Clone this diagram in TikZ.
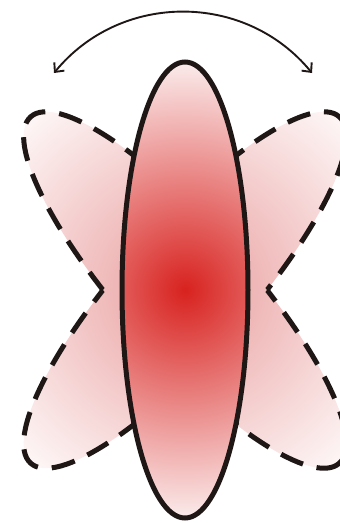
\documentclass[tikz,border=0pt]{standalone}
\usepackage{tikz}
\usetikzlibrary{arrows.meta}
\definecolor{corered}{HTML}{D8221F}
\definecolor{coreedge}{HTML}{FBEDED}
\definecolor{lobered}{HTML}{E99C9C}
\definecolor{lobeedge}{HTML}{FEF8F8}
\definecolor{ink}{HTML}{1E1715}

\begin{document}
\begin{tikzpicture}[x=1pt, y=-1pt,
    rim/.style={draw=ink, line width=5pt},
    lobe/.style={rim, dash pattern=on 24pt off 14pt},
    swing/.style={draw=ink, line width=1.9pt,
        {Straight Barb[length=7pt,width=13pt]}-{Straight Barb[length=7pt,width=13pt]}}]
    \useasboundingbox (0,0) rectangle (340,523);
    \clip (0,0) rectangle (340,523);
    \coordinate (c) at (185,290);

    % lobes behind
    \begin{scope}
        \clip (c) ellipse[x radius=232, y radius=63, rotate=48.3]
              (c) ellipse[x radius=232, y radius=63, rotate=-48.3];
        \shade[inner color=lobered, outer color=lobeedge] (c) circle (236);
    \end{scope}
    \begin{scope}[even odd rule]
        \clip (0,0) rectangle (340,523)
              (c) ellipse[x radius=232, y radius=63, rotate=-48.3];
        \path[lobe] (c) ellipse[x radius=232, y radius=63, rotate=48.3];
    \end{scope}
    \begin{scope}[even odd rule]
        \clip (0,0) rectangle (340,523)
              (c) ellipse[x radius=232, y radius=63, rotate=48.3];
        \path[lobe] (c) ellipse[x radius=232, y radius=63, rotate=-48.3];
    \end{scope}

    % core
    \begin{scope}
        \clip (c) ellipse[x radius=63, y radius=228];
        \shade[inner color=corered, outer color=coreedge] (c) circle (230);
    \end{scope}
    \path[rim] (c) ellipse[x radius=63, y radius=228];

    % swing arrow
    \coordinate (swingL) at (54,73);
    \coordinate (swingR) at (312,73);
    \draw[swing] (swingL) .. controls (120.8,-8.3) and (245.2,-8.3) .. (swingR);
\end{tikzpicture}
\end{document}
